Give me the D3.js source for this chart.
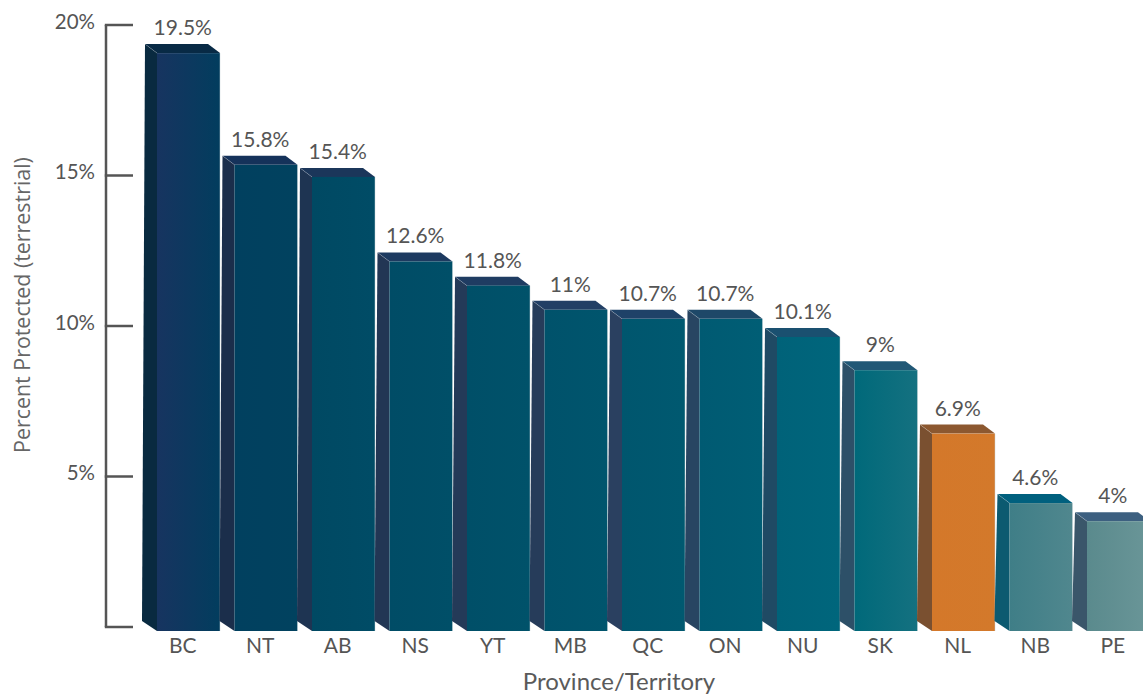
<!DOCTYPE html>
<html>
<head>
<meta charset="utf-8">
<script src="https://cdn.jsdelivr.net/npm/d3@7"></script>
<style>
  body { margin: 0; background: #fff; }
  text { font-family: Lato, "Open Sans", sans-serif; fill: #555; }
</style>
</head>
<body>
<script>
const width = 1143;
const height = 695;

// data
const provinces = ["BC", "NT", "AB", "NS", "YT", "MB", "QC", "ON", "NU", "SK", "NL", "NB", "PE"];
const protectedPct = [19.5, 15.8, 15.4, 12.6, 11.8, 11, 10.7, 10.7, 10.1, 9, 6.9, 4.6, 4];
const yTicks = [0, 5, 10, 15, 20];

// palette (front left / front right / side / top)
const frontA = ["#173460", "#01405f", "#004963", "#004c66", "#004f68", "#00526b", "#00566e", "#005a72", "#006279", "#00697a", "#d4782a", "#3f7e87", "#5a8a8d"];
const frontB = ["#023d5e", "#01425f", "#004c66", "#004f68", "#00526a", "#00556d", "#005970", "#005e75", "#00667c", "#147180", "#d3792b", "#50878e", "#6a9698"];
const sideC  = ["#092a40", "#1b2e4b", "#1e3452", "#223654", "#243a58", "#263c5a", "#2a4060", "#284562", "#1f4a64", "#2d5068", "#7a5030", "#0c5a70", "#3a566a"];
const topC   = ["#082a45", "#15325a", "#1b365a", "#1d3a60", "#1f3c62", "#223f65", "#1f4268", "#1e4868", "#1a5070", "#215876", "#8c5830", "#00607e", "#3d6080"];

const svg = d3.select("body").append("svg")
  .attr("width", width)
  .attr("height", height);

const y = d3.scaleLinear().domain([0, 20]).range([627, 25]);
// bars sit a little below the axis scale, as in the original artwork
const yBar = d3.scaleLinear().domain([0, 20]).range([642, 38]);
const x = d3.scaleBand().domain(provinces).range([145, 145 + 77.5 * 13]).padding(0);

const BASE = 631;
const DX = 12, DY = 9;      // depth at the top
const DXB = 15, DYB = 10;   // depth at the base
const SIDE = 12;
const FRONT_W = 63;

const defs = svg.append("defs");
provinces.forEach((p, i) => {
  const g = defs.append("linearGradient").attr("id", "grad" + i)
    .attr("x1", "0%").attr("x2", "100%").attr("y1", "0%").attr("y2", "0%");
  g.append("stop").attr("offset", "0%").attr("stop-color", frontA[i]);
  g.append("stop").attr("offset", "100%").attr("stop-color", frontB[i]);
});

// y axis
const axis = svg.append("g");
axis.append("line")
  .attr("x1", 106).attr("x2", 106)
  .attr("y1", y(20)).attr("y2", y(0))
  .attr("stroke", "#555").attr("stroke-width", 2.5);
axis.selectAll("line.tick")
  .data(yTicks)
  .join("line")
  .attr("class", "tick")
  .attr("x1", 104.8).attr("x2", 133)
  .attr("y1", d => y(d)).attr("y2", d => y(d))
  .attr("stroke", "#555").attr("stroke-width", 2.5);
axis.selectAll("text.tl")
  .data(yTicks.filter(d => d > 0))
  .join("text")
  .attr("class", "tl")
  .attr("x", 95)
  .attr("y", d => y(d) - 3.5)
  .attr("dy", "0.35em")
  .attr("text-anchor", "end")
  .style("font-size", "20.5px")
  .text(d => d + "%");

// bars
const bars = svg.append("g").selectAll("g.bar")
  .data(provinces.map((p, i) => ({ p, v: protectedPct[i], i })))
  .join("g")
  .attr("class", "bar");

bars.each(function(d) {
  const g = d3.select(this);
  const x0 = x(d.p) + SIDE;
  const top = yBar(d.v);
  // side face
  g.append("polygon")
    .attr("points", [[x0 - DX, top - DY], [x0, top], [x0, BASE], [x0 - DXB, BASE - DYB]].join(" "))
    .attr("fill", sideC[d.i]);
  // top face
  g.append("polygon")
    .attr("points", [[x0 - DX, top - DY], [x0 + FRONT_W - DX, top - DY], [x0 + FRONT_W, top], [x0, top]].join(" "))
    .attr("fill", topC[d.i]);
  // front face
  g.append("rect")
    .attr("x", x0).attr("y", top)
    .attr("width", FRONT_W).attr("height", BASE - top)
    .attr("fill", "url(#grad" + d.i + ")");
  // thin highlight edges
  g.append("line")
    .attr("x1", x0 - DX).attr("y1", top - DY).attr("x2", x0).attr("y2", top)
    .attr("stroke", "#ffffff").attr("stroke-opacity", 0.25).attr("stroke-width", 0.8);
  g.append("line")
    .attr("x1", x0 + FRONT_W).attr("y1", top).attr("x2", x0 + FRONT_W).attr("y2", BASE)
    .attr("stroke", "#c8d4da").attr("stroke-opacity", 0.6).attr("stroke-width", 0.8);
});

// value labels
bars.append("text")
  .attr("x", d => x(d.p) + x.bandwidth() / 2 - 1)
  .attr("y", d => yBar(d.v) - DY - 9)
  .attr("text-anchor", "middle")
  .style("font-size", "21px")
  .text(d => d.v + "%");

// x labels
svg.append("g").selectAll("text")
  .data(provinces)
  .join("text")
  .attr("x", d => x(d) + x.bandwidth() / 2 - 1)
  .attr("y", 653)
  .attr("text-anchor", "middle")
  .style("font-size", "21px")
  .text(d => d);

// axis titles
svg.append("text")
  .attr("x", 619).attr("y", 690)
  .attr("text-anchor", "middle")
  .style("font-size", "24px")
  .style("fill", "#5a5a5a")
  .text("Province/Territory");

svg.append("text")
  .attr("transform", "translate(30,305) rotate(-90)")
  .attr("text-anchor", "middle")
  .style("font-family", "'Open Sans', sans-serif")
  .style("font-size", "21.4px")
  .style("fill", "#666")
  .text("Percent Protected (terrestrial)");
</script>
</body>
</html>
